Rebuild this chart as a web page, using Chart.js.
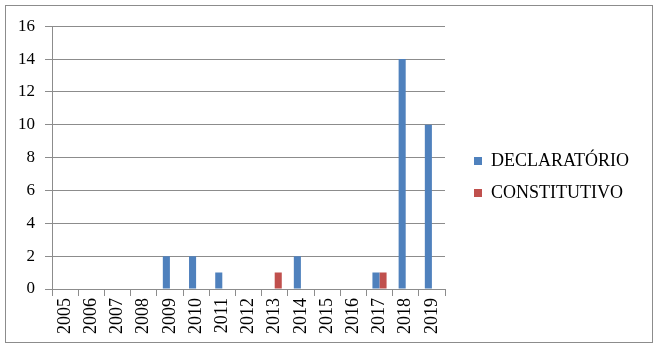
<!DOCTYPE html>
<html><head><meta charset="utf-8">
<script src="https://cdn.jsdelivr.net/npm/chart.js@4"></script>
<style>
html,body{margin:0;padding:0;background:#fff;}
#box{position:absolute;left:5px;top:5px;width:646px;height:336px;border:1px solid #8c8c8c;}
canvas{display:block;}
</style></head><body>
<div id="box"><canvas id="c" width="646" height="336"></canvas></div>
<script>
const years = ["2005","2006","2007","2008","2009","2010","2011","2012","2013","2014","2015","2016","2017","2018","2019"];
const declaratorio = [0,0,0,0,2,2,1,0,0,2,0,0,1,14,10];
const constitutivo = [0,0,0,0,0,0,0,0,1,0,0,0,1,0,0];
const yTicks = [0,2,4,6,8,10,12,14,16];
const font = "'Liberation Serif','Times New Roman',serif";
new Chart(document.getElementById('c'), {
  type: 'bar',
  data: {
    labels: years,
    datasets: [
      {label: 'DECLARATÓRIO', data: declaratorio, backgroundColor: '#4f81bd', borderWidth: 0},
      {label: 'CONSTITUTIVO', data: constitutivo, backgroundColor: '#c0504d', borderWidth: 0}
    ]
  },
  options: {
    responsive: false,
    animation: false,
    layout: {padding: {left: 2, top: 12, right: 13, bottom: 6}},
    plugins: {
      tooltip: {enabled: false},
      legend: {
        position: 'right',
        maxWidth: 220,
        labels: {
          font: {family: font, size: 18},
          color: '#000',
          boxWidth: 8, boxHeight: 8,
          padding: 14
        }
      }
    },
    datasets: {bar: {categoryPercentage: 0.54, barPercentage: 1}},
    scales: {
      x: {
        grid: {display: true, drawOnChartArea: false, drawTicks: true, tickLength: 7, color: '#8c8c8c', offset: true},
        border: {color: '#8c8c8c'},
        ticks: {font: {family: font, size: 18}, color: '#000', minRotation: 90, maxRotation: 90, padding: 2, autoSkip: false}
      },
      y: {
        min: 0, max: 16,
        afterBuildTicks: (axis) => { axis.ticks = yTicks.map(v => ({value: v})); },
        grid: {color: '#8c8c8c', tickLength: 7},
        border: {color: '#8c8c8c'},
        ticks: {font: {family: font, size: 17}, color: '#000', padding: 10}
      },
      gap: {
        type: 'linear', position: 'right', display: true,
        grid: {display: false, drawTicks: false}, border: {display: false},
        ticks: {display: false},
        afterFit: (s) => { s.width = 15; }
      }
    }
  }
});
</script>
</body></html>
